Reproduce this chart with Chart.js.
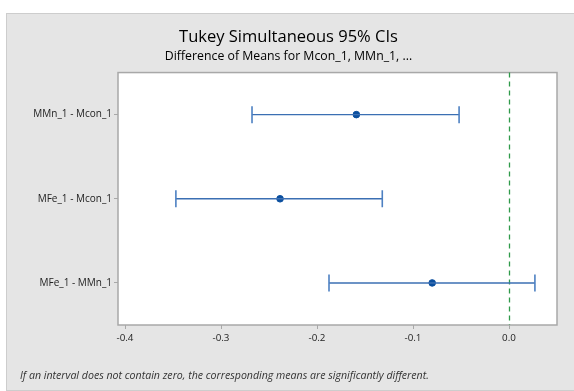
<!DOCTYPE html>
<html>
<head>
<meta charset="utf-8">
<script src="https://cdn.jsdelivr.net/npm/chart.js@4/dist/chart.umd.min.js"></script>
<style>
  html, body { margin:0; padding:0; background:#ffffff; }
  #wrap { position:relative; width:574px; height:391px; overflow:hidden; }
  #panel { position:absolute; left:6px; top:13px; width:570px; height:378px; background:#e5e5e5; border:1px solid #cdcdcd; box-sizing:border-box; }
  #c { position:absolute; left:0; top:0; }
  #note { position:absolute; left:20px; top:368px; font-family:"Open Sans", sans-serif; font-style:italic; font-size:10.6px; color:#333; white-space:nowrap; }
</style>
</head>
<body>
<div id="wrap">
  <div id="panel"></div>
  <canvas id="c" width="574" height="391"></canvas>
  <div id="note">If an interval does not contain zero, the corresponding means are significantly different.</div>
</div>
<script>
const categories = ['MMn_1 - Mcon_1', 'MFe_1 - Mcon_1', 'MFe_1 - MMn_1'];
const means  = [-0.159, -0.2385, -0.080];
const lowers = [-0.2677, -0.347, -0.1875];
const uppers = [-0.052, -0.132, 0.027];
const xTicks = [-0.4, -0.3, -0.2, -0.1, 0.0];
const referenceValue = 0;

const lineColor = '#3b6fb3';
const dotColor = '#0b4f9f';

const intervalSets = categories.map((cat, i) => ({
  type: 'scatter',
  showLine: true,
  data: [{x: lowers[i], y: cat}, {x: uppers[i], y: cat}],
  borderColor: lineColor,
  borderWidth: 1.4,
  pointStyle: 'line',
  rotation: 90,
  pointRadius: 8.5,
  pointBorderColor: '#4d80c2',
  pointBorderWidth: 1.6,
  pointHoverRadius: 8.5
}));

const meanSet = {
  type: 'scatter',
  data: categories.map((cat, i) => ({x: means[i], y: cat})),
  pointStyle: 'circle',
  pointRadius: 3.3,
  pointBackgroundColor: dotColor,
  pointBorderColor: dotColor,
  pointBorderWidth: 1,
  showLine: false
};

const plotDecor = {
  id: 'plotDecor',
  beforeDatasetsDraw(chart) {
    const {ctx, chartArea: a, scales} = chart;
    ctx.save();
    ctx.fillStyle = '#ffffff';
    ctx.fillRect(a.left, a.top, a.right - a.left, a.bottom - a.top);
    ctx.strokeStyle = '#a8a8a8';
    ctx.lineWidth = 1.5;
    ctx.strokeRect(a.left, a.top, a.right - a.left, a.bottom - a.top);
    const x0 = Math.round(scales.x.getPixelForValue(referenceValue)) + 0.5;
    ctx.strokeStyle = '#2f9a4a';
    ctx.lineWidth = 1.3;
    ctx.setLineDash([5, 4]);
    ctx.beginPath();
    ctx.moveTo(x0, a.top);
    ctx.lineTo(x0, a.bottom);
    ctx.stroke();
    ctx.restore();
  }
};

new Chart(document.getElementById('c'), {
  type: 'scatter',
  data: { datasets: [...intervalSets, meanSet] },
  plugins: [plotDecor],
  options: {
    responsive: false,
    devicePixelRatio: 1,
    animation: false,
    events: [],
    layout: { padding: { left: 20, right: 17, top: 0, bottom: 0 } },
    plugins: {
      legend: { display: false },
      tooltip: { enabled: false },
      title: {
        display: true,
        text: 'Tukey Simultaneous 95% CIs',
        color: '#000',
        font: { family: '"Open Sans", sans-serif', size: 16.5, weight: 'normal' },
        padding: { top: 27, bottom: 2 }
      },
      subtitle: {
        display: true,
        text: 'Difference of Means for Mcon_1, MMn_1, ...',
        color: '#000',
        font: { family: '"Open Sans", sans-serif', size: 12.3, weight: 'normal' },
        padding: { top: 0, bottom: 9 }
      }
    },
    scales: {
      x: {
        type: 'linear',
        min: -0.4073,
        max: 0.05,
        afterBuildTicks(scale) { scale.ticks = xTicks.map(v => ({ value: v })); },
        afterFit(scale) { scale.height = 66; },
        border: { display: false },
        grid: { display: true, drawOnChartArea: false, drawTicks: true, tickLength: 4, color: '#a8a8a8' },
        ticks: {
          padding: 3,
          color: '#222',
          font: { family: '"Open Sans", sans-serif', size: 9.8 },
          callback: v => v.toFixed(1)
        }
      },
      y: {
        type: 'category',
        labels: categories,
        offset: true,
        afterFit(scale) { scale.width = 98; },
        border: { display: false },
        grid: { display: true, drawOnChartArea: false, drawTicks: true, tickLength: 4, color: '#a8a8a8', offset: false },
        ticks: {
          padding: 2,
          color: '#222',
          font: { family: '"Open Sans", sans-serif', size: 10 }
        }
      }
    }
  }
});
</script>
</body>
</html>
